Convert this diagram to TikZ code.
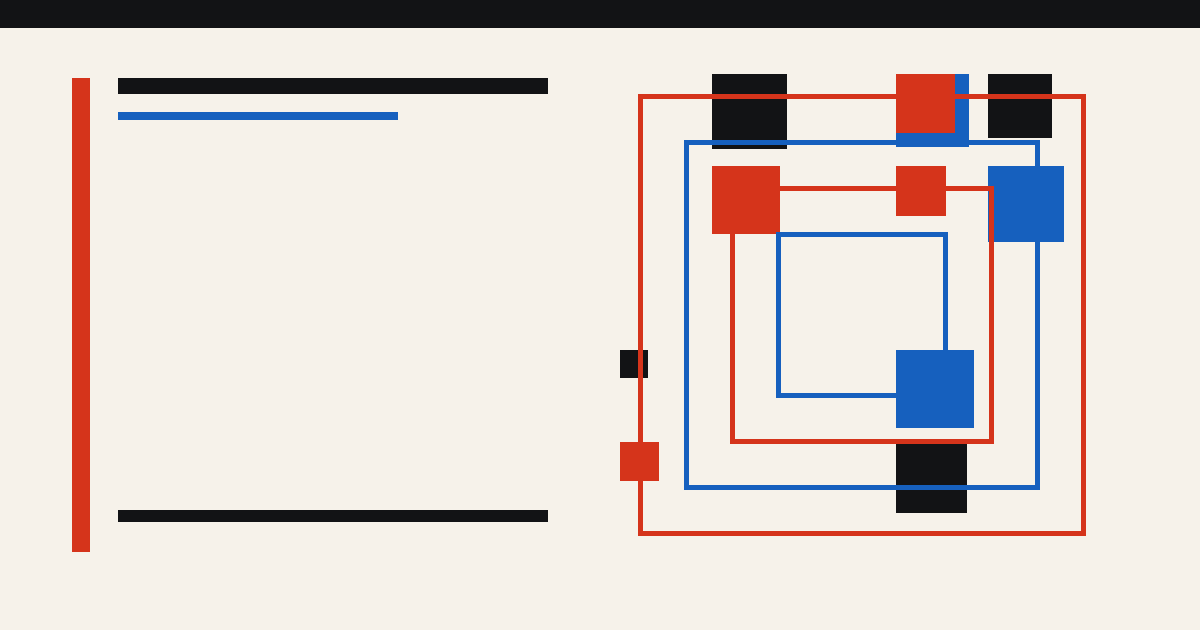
\documentclass[tikz,border=0pt]{standalone}
\definecolor{inkblack}{RGB}{18,19,21}
\definecolor{inkred}{RGB}{213,52,27}
\definecolor{inkblue}{RGB}{22,96,190}
\definecolor{paper}{RGB}{246,242,234}
\tikzset{
  blk/.style={fill=inkblack},
  rd/.style={fill=inkred},
  bl/.style={fill=inkblue},
  redframe/.style={draw=inkred,line width=5pt},
  blueframe/.style={draw=inkblue,line width=5pt}
}
\begin{document}
\begin{tikzpicture}[x=1pt,y=-1pt]
\fill[paper] (0,0) rectangle (1200,630);
\useasboundingbox (0,0) rectangle (1200,630);
% top band
\fill[blk] (0,0) rectangle (1200,28);
% left column
\fill[rd] (72,78) rectangle (90,552);
\fill[blk] (118,78) rectangle (548,94);
\fill[bl] (118,112) rectangle (398,120);
\fill[blk] (118,510) rectangle (548,522);
% filled squares
\fill[blk] (712,74) rectangle (787,149);
\fill[bl] (896,74) rectangle (969,147);
\fill[rd] (896,74) rectangle (955,133);
\fill[blk] (988,74) rectangle (1052,138);
\fill[rd] (712,166) rectangle (780,234);
\fill[rd] (896,166) rectangle (946,216);
\fill[bl] (988,166) rectangle (1064,242);
\fill[blk] (620,350) rectangle (648,378);
\fill[bl] (896,350) rectangle (974,428);
\fill[rd] (620,442) rectangle (659,481);
\fill[blk] (896,442) rectangle (967,513);
% nested frames
\draw[redframe] (640.5,96.5) rectangle (1083.5,533.5);
\draw[blueframe] (686.5,142.5) rectangle (1037.5,487.5);
\draw[redframe] (732.5,188.5) rectangle (991.5,441.5);
\draw[blueframe] (778.5,234.5) rectangle (945.5,395.5);
\end{tikzpicture}
\end{document}
